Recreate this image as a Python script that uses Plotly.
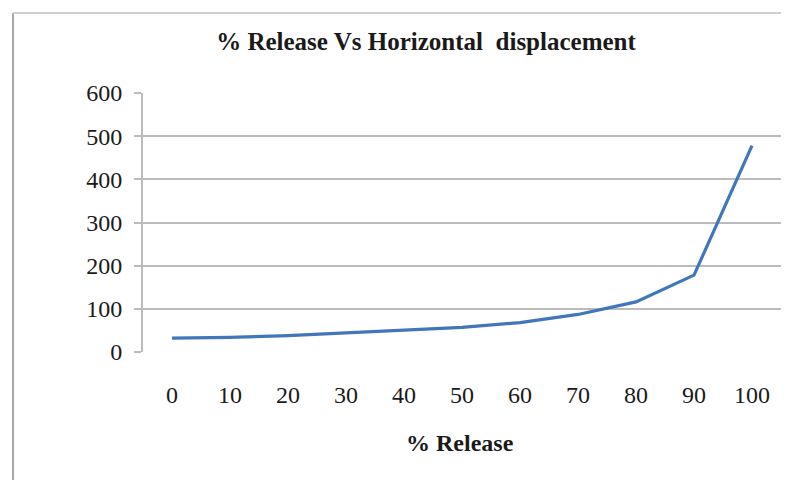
import plotly.graph_objects as go

release = ["0", "10", "20", "30", "40", "50", "60", "70", "80", "90", "100"]
displacement = [32, 34, 38, 44, 50, 57, 68, 87, 116, 178, 478]
y_ticks = [0, 100, 200, 300, 400, 500, 600]

# page has an 8px body margin, so the figure is drawn 8px in from the top-left
OFF = 8
W, H = 789 - OFF, 480 - OFF
L, R, T, B = 143 - OFF, 8, 93 - OFF, 480 - 352
pw, ph = W - L - R, H - T - B

def px_x(px):  # page pixel -> paper x
    return (px - OFF - L) / pw

def px_y(py):  # page pixel -> paper y
    return (H - B - (py - OFF)) / ph

fig = go.Figure()
fig.add_trace(go.Scatter(
    x=release, y=displacement, mode="lines",
    line=dict(color="#4276bb", width=3.2),
    showlegend=False, hoverinfo="x+y",
))

serif = "'Liberation Serif', 'Times New Roman', 'DejaVu Serif', serif"
FS = 24

fig.update_layout(
    width=W, height=H,
    margin=dict(l=L, r=R, t=T, b=B, autoexpand=False),
    paper_bgcolor="white", plot_bgcolor="white",
    font=dict(family=serif, color="#1a1a1a", size=FS),
    title=dict(
        text="<b>% Release Vs Horizontal  displacement</b>",
        x=px_x(426), xref="paper", xanchor="center",
        y=1 - (41 - OFF) / H, yref="container", yanchor="middle",
        font=dict(family=serif, size=25, color="#1a1a1a"),
    ),
    xaxis=dict(
        type="category", range=[-0.5, 10.5], automargin=False,
        showgrid=False, zeroline=False, showline=False,
        ticks="", tickfont=dict(size=FS, family=serif),
        ticklabelstandoff=26,
    ),
    yaxis=dict(
        range=[0, 600], tickvals=y_ticks, automargin=False,
        showgrid=True, gridcolor="#bcbcbc", gridwidth=2,
        zeroline=False, showline=True, linecolor="#bcbcbc", linewidth=2,
        ticks="outside", ticklen=7, tickcolor="#bcbcbc", tickwidth=2,
        tickfont=dict(size=FS, family=serif),
        ticklabelstandoff=7,
    ),
    annotations=[
        dict(text="<b>% Release</b>", xref="paper", yref="paper",
             x=px_x(460), y=px_y(443), xanchor="center", yanchor="middle",
             showarrow=False, font=dict(size=FS, family=serif, color="#1a1a1a")),
    ],
    shapes=[
        dict(type="line", xref="paper", yref="paper",
             x0=px_x(13), x1=px_x(13), y0=px_y(13), y1=px_y(500),
             line=dict(color="#a8a8a8", width=2)),
        dict(type="line", xref="paper", yref="paper",
             x0=px_x(13), x1=px_x(800), y0=px_y(13), y1=px_y(13),
             line=dict(color="#d0d0d0", width=2)),
    ],
)

fig.write_html("out.html")
